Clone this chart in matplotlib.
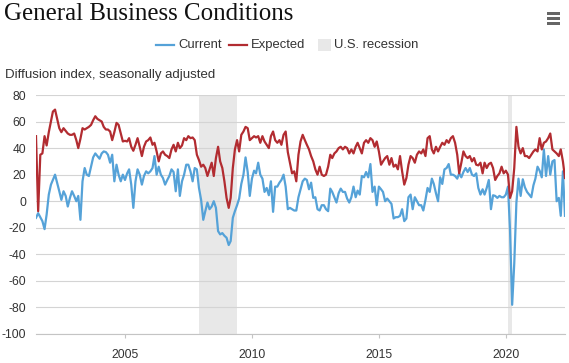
import matplotlib
matplotlib.use("Agg")
import matplotlib.pyplot as plt
import matplotlib.dates as mdates
from matplotlib.lines import Line2D
from matplotlib.patches import Rectangle
import pandas as pd

plt.rcParams['font.family'] = ['Liberation Sans', 'DejaVu Sans']
plt.rcParams['axes.unicode_minus'] = False

# ---------------- data (monthly, Jul 2001 - May 2022) ----------------
start_month = '2001-07-01'

current_by_year = {
    2001: [-12.5, -9, -12, -15, -21, -10],
    2002: [5, 12.5, 16, 20, 14, 7.5, 1, 7.5, 4, -4, 2.5, 7.5],
    2003: [4, 0, 4, -14, 15, 25, 20, 19, 26, 33, 36, 34],
    2004: [32, 36, 37.5, 37, 35, 29, 35, 15, 27.5, 20, 15, 20],
    2005: [16, 21, 24, 12.5, -5, 15, 24, 20, 12.5, 19, 22.5, 21],
    2006: [22.5, 25, 34, 20, 26, 20, 17.5, 12.5, 16, 19, 24, 22],
    2007: [7.5, 24, 4, 15, 20, 27.5, 27.5, 22.5, 15, 25, 24, 10],
    2008: [1, -14, -7.5, -1, -6, -4, 0, -5, -22.5, -25, -24, -26],
    2009: [-27.5, -33, -30, -12.5, -7.5, -3, 2, 13, 20, 33, 22, 4],
    2010: [17, 23, 21, 29, 20, 17, 7, 10, 4.5, 15, -8, 11],
    2011: [11, 14, 16, 20, 11, -6, -5, -6, -7, -7, 3, 9],
    2012: [15, 17, 16, 9, 14, 2.5, 3, -6, -7, -3, -3, -6],
    2013: [-7.5, 9.5, 7, 3, -1, 6, 9.5, 7, 7, 2, -1, 3],
    2014: [11, 3, 8, 5, 19, 18, 22, 18, 28, 7, 11, -3],
    2015: [11, 9, 7, 0, 2, 0, -2, -13, -12, -12, -11, -6],
    2016: [-15, -13, 3, 5, -6, 3, 0, -3, -3, -7, 1, 10],
    2017: [7, 17, 13, 6, 0, 18, 13, 24, 25, 28, 20, 20],
    2018: [19, 17, 21, 18, 22, 25, 22, 25, 20, 19, 21, 10],
    2019: [5, 9, 5, 10, 16, -6, 4.5, 4, 2.5, 4, 3, 3],
    2020: [5, 11, -21.5, -78, -47, -1, 17, 4, 16.5, 10.5, 7, 5],
    2021: [3, 12, 17, 26, 23, 18, 39, 19, 34, 20, 30, 31],
    2022: [0, 2.5, -11, 22.5, -11],
}

expected_by_year = {
    2001: [49, -7.5, 35, 36, 49, 42],
    2002: [52, 60, 67.5, 69, 62, 55, 52, 55, 53, 51, 50, 50],
    2003: [51, 46, 40, 47, 55, 54, 55, 56, 57.5, 61, 64, 62],
    2004: [61, 60, 56, 54, 54, 52.5, 46, 52, 59, 57.5, 51, 45],
    2005: [45.5, 45, 47.5, 41, 38, 42.5, 47.5, 41, 34, 41, 45, 46],
    2006: [48, 42.5, 44, 37.5, 30, 36, 37.5, 35, 34, 32.5, 39, 42.5],
    2007: [37.5, 44, 40, 42, 47.5, 46, 49, 47.5, 48, 46, 35, 31],
    2008: [26, 27.5, 25, 19, 24, 29, 19, 32.5, 41, 30, 25, 15],
    2009: [2.5, -5, 2.5, 25, 39, 46, 37.5, 50, 52.5, 56, 55, 46],
    2010: [47.5, 49, 48, 49, 44, 49, 45, 42.5, 40, 49, 52.5, 46],
    2011: [44, 46, 42.5, 50, 52.5, 37, 29, 21, 22.5, 15, 35, 45],
    2012: [50, 46, 42.5, 39, 34, 30, 24, 20, 26, 20, 19, 20],
    2013: [26, 35, 32.5, 36, 37.5, 40, 41, 39, 41, 40, 36, 39],
    2014: [36, 41, 44, 40, 36, 44, 46, 44, 47.5, 46, 41, 45],
    2015: [37.5, 27.5, 30, 32.5, 34, 27.5, 32.5, 26, 27.5, 24, 34, 22.5],
    2016: [12.5, 17.5, 27.5, 34, 32.5, 29, 35, 37.5, 36, 39, 34, 47.5],
    2017: [49, 39, 36, 41, 37.5, 41, 44, 42.5, 46, 44, 47.5, 49],
    2018: [44, 35, 21, 29, 37.5, 34, 32.5, 34, 30, 32.5, 27.5, 27],
    2019: [29, 21, 29, 25, 28, 29, 25, 16, 19, 21, 26, 21],
    2020: [23, 20, 2.5, 7.5, 25, 56, 41, 36, 40, 34, 34, 32.5],
    2021: [35, 37.5, 39, 37.5, 47.5, 39, 44, 45, 47.5, 51, 39, 37.5],
    2022: [36, 34, 39, 30, 17.5],
}

recessions = [('2007-12-01', '2009-06-01'), ('2020-02-01', '2020-04-01')]

y_ticks = list(range(-100, 81, 20))

title = 'General Business Conditions'
subtitle = 'Diffusion index, seasonally adjusted'
series_names = ['Current', 'Expected', 'U.S. recession']

# ---------------- build series ----------------
current = [v for y in sorted(current_by_year) for v in current_by_year[y]]
expected = [v for y in sorted(expected_by_year) for v in expected_by_year[y]]
assert len(current) == len(expected) == 251, (len(current), len(expected))
dates = pd.date_range(start_month, periods=len(current), freq='MS')

# ---------------- styling ----------------
W, H = 569, 363
BLUE = '#55a2d8'
RED = '#b22c31'
BAND = '#e8e8e8'
GRID = '#d4d4d4'
TXT = '#333333'

def fx(x):
    return x / W

def fy(y):
    return 1 - y / H

fig = plt.figure(figsize=(W / 100, H / 100), dpi=100)
ax = fig.add_axes([fx(36), 1 - 334 / H, (565 - 36) / W, (334 - 95) / H])

for s, e in recessions:
    ax.axvspan(pd.Timestamp(s), pd.Timestamp(e), color=BAND, lw=0, zorder=0.3)

ax.plot(dates, current, color=BLUE, lw=1.6, zorder=2, solid_joinstyle='round')
ax.plot(dates, expected, color=RED, lw=1.6, zorder=3, solid_joinstyle='round')

ax.set_xlim(dates[0], dates[-1])
ax.set_ylim(-100, 80)
ax.set_yticks(y_ticks)
ax.set_yticklabels([str(t) for t in y_ticks])
ax.xaxis.set_major_locator(mdates.YearLocator(5))
ax.xaxis.set_major_formatter(mdates.DateFormatter('%Y'))

ax.set_axisbelow(True)
ax.grid(axis='y', color=GRID, lw=0.8)
ax.grid(axis='x', visible=False)
for sp in ['top', 'right', 'left']:
    ax.spines[sp].set_visible(False)
ax.spines['bottom'].set_color('#c4c4c4')
ax.spines['bottom'].set_linewidth(0.8)

ax.tick_params(axis='y', length=0, pad=7.2, labelsize=8.7, labelcolor=TXT)
ax.tick_params(axis='x', length=3, width=0.8, color='#c4c4c4', pad=7.5,
               labelsize=8.7, labelcolor=TXT)

# title
fig.text(fx(4), fy(20), title, family=['Liberation Serif', 'DejaVu Serif'],
         fontsize=17.9, color='#111111', va='baseline', ha='left')

# hamburger menu icon
for yy in (12, 17, 22):
    fig.add_artist(Rectangle((fx(547), fy(yy + 2.5)), 13 / W, 2.5 / H,
                             transform=fig.transFigure, color='#666666', lw=0))

# legend (manual, centred row)
ly = fy(45)
fig.add_artist(Line2D([fx(156), fx(174)], [ly, ly], transform=fig.transFigure,
                      color=BLUE, lw=1.6))
fig.text(fx(178), ly, series_names[0], fontsize=9.4, color=TXT, va='center', ha='left')
fig.add_artist(Line2D([fx(229), fx(247)], [ly, ly], transform=fig.transFigure,
                      color=RED, lw=1.6))
fig.text(fx(251), ly, series_names[1], fontsize=9.4, color=TXT, va='center', ha='left')
fig.add_artist(Rectangle((fx(318), fy(51)), 13 / W, 12 / H,
                         transform=fig.transFigure, color=BAND, lw=0))
fig.text(fx(334), ly, series_names[2], fontsize=9.4, color=TXT, va='center', ha='left')

# subtitle
fig.text(fx(5), fy(75), subtitle, fontsize=9.5, color=TXT, va='center', ha='left')

fig.savefig('out.png', dpi=100)
